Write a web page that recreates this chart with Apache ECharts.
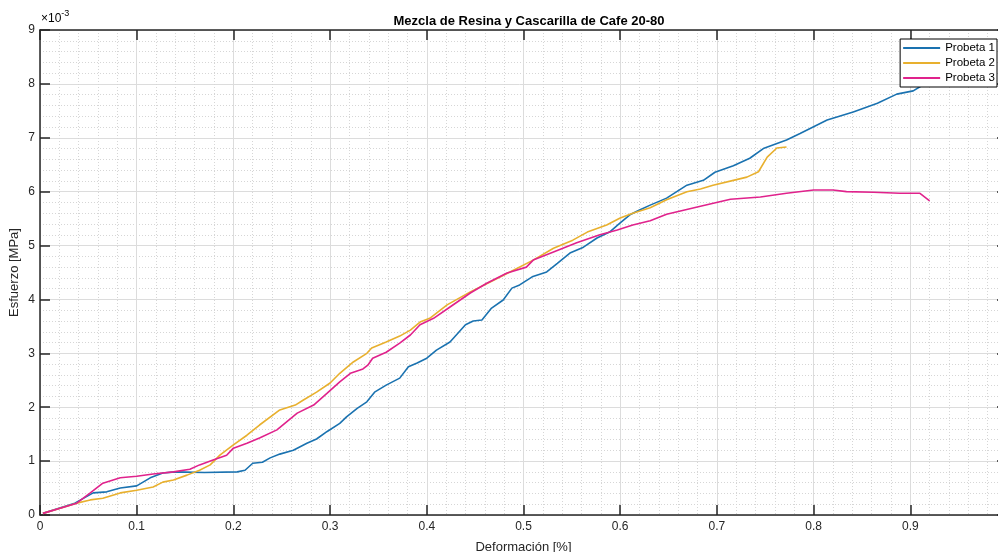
<!DOCTYPE html>
<html>
<head>
<meta charset="utf-8">
<script src="https://cdn.jsdelivr.net/npm/echarts@6/dist/echarts.min.js"></script>
<style>html,body{margin:0;padding:0;background:#fff}#c{width:998px;height:552px}</style>
</head>
<body>
<div id="c"></div>
<script>
// values in units of 1e-3 MPa (axis shows x10^-3)
const seriesNames = ['Probeta 1', 'Probeta 2', 'Probeta 3'];
const xTicks = [0, 0.1, 0.2, 0.3, 0.4, 0.5, 0.6, 0.7, 0.8, 0.9, 1];
const yTicks = [0, 1, 2, 3, 4, 5, 6, 7, 8, 9];

const p1x = [0.003, 0.036, 0.055, 0.069, 0.083, 0.1, 0.114, 0.127, 0.14, 0.17, 0.204, 0.212, 0.22, 0.23, 0.238, 0.248, 0.262, 0.276, 0.286, 0.297, 0.31, 0.317, 0.328, 0.338, 0.346, 0.358, 0.372, 0.381, 0.39, 0.4, 0.41, 0.424, 0.44, 0.448, 0.457, 0.467, 0.479, 0.488, 0.496, 0.509, 0.524, 0.535, 0.548, 0.562, 0.576, 0.589, 0.6, 0.61, 0.62, 0.631, 0.648, 0.669, 0.686, 0.698, 0.717, 0.734, 0.748, 0.772, 0.786, 0.814, 0.841, 0.866, 0.886, 0.903, 0.913];
const p1y = [0.03, 0.22, 0.41, 0.43, 0.5, 0.54, 0.69, 0.78, 0.8, 0.79, 0.8, 0.83, 0.96, 0.98, 1.06, 1.13, 1.2, 1.33, 1.41, 1.55, 1.7, 1.82, 1.98, 2.1, 2.28, 2.41, 2.54, 2.75, 2.82, 2.91, 3.06, 3.21, 3.53, 3.6, 3.62, 3.84, 3.99, 4.21, 4.27, 4.42, 4.51, 4.67, 4.86, 4.97, 5.14, 5.25, 5.42, 5.57, 5.66, 5.75, 5.88, 6.12, 6.21, 6.36, 6.48, 6.62, 6.8, 6.96, 7.08, 7.33, 7.48, 7.64, 7.81, 7.87, 7.98];

const p2x = [0.003, 0.038, 0.052, 0.065, 0.083, 0.1, 0.117, 0.127, 0.138, 0.152, 0.165, 0.176, 0.186, 0.2, 0.214, 0.227, 0.248, 0.264, 0.272, 0.286, 0.3, 0.31, 0.324, 0.338, 0.343, 0.358, 0.372, 0.383, 0.393, 0.403, 0.421, 0.445, 0.465, 0.486, 0.51, 0.531, 0.551, 0.566, 0.586, 0.6, 0.613, 0.631, 0.648, 0.669, 0.683, 0.696, 0.717, 0.731, 0.743, 0.752, 0.762, 0.772];
const p2y = [0.03, 0.22, 0.28, 0.31, 0.41, 0.46, 0.52, 0.61, 0.65, 0.74, 0.83, 0.93, 1.11, 1.3, 1.48, 1.67, 1.95, 2.04, 2.13, 2.28, 2.45, 2.63, 2.84, 3.0, 3.1, 3.21, 3.32, 3.43, 3.58, 3.65, 3.9, 4.14, 4.32, 4.51, 4.73, 4.95, 5.1, 5.25, 5.38, 5.51, 5.6, 5.7, 5.85, 6.0, 6.05, 6.12, 6.21, 6.27, 6.37, 6.64, 6.81, 6.83];

const p3x = [0.003, 0.038, 0.052, 0.065, 0.083, 0.1, 0.117, 0.138, 0.155, 0.165, 0.179, 0.193, 0.2, 0.214, 0.227, 0.245, 0.266, 0.283, 0.297, 0.31, 0.321, 0.334, 0.339, 0.344, 0.358, 0.372, 0.383, 0.393, 0.407, 0.424, 0.445, 0.462, 0.483, 0.503, 0.51, 0.531, 0.555, 0.579, 0.597, 0.613, 0.631, 0.648, 0.683, 0.714, 0.745, 0.772, 0.8, 0.82, 0.834, 0.862, 0.889, 0.91, 0.92];
const p3y = [0.03, 0.22, 0.41, 0.59, 0.69, 0.72, 0.76, 0.8, 0.85, 0.93, 1.02, 1.11, 1.24, 1.33, 1.43, 1.58, 1.89, 2.04, 2.26, 2.47, 2.63, 2.71, 2.78, 2.91, 3.02, 3.19, 3.34, 3.53, 3.65, 3.86, 4.12, 4.3, 4.49, 4.6, 4.73, 4.88, 5.05, 5.2, 5.29, 5.38, 5.46, 5.58, 5.73, 5.86, 5.9, 5.97, 6.03, 6.03, 6.0, 5.99, 5.97, 5.97, 5.83];

const colors = ['#1A72B0', '#E8B02E', '#E0228C'];
const zip = (xs, ys) => xs.map((x, i) => [x, ys[i]]);
const data = [zip(p1x, p1y), zip(p2x, p2y), zip(p3x, p3y)];

const FONT = '"Liberation Sans", Arial, sans-serif';
const axisCol = '#262626';

const chart = echarts.init(document.getElementById('c'), null, {renderer: 'canvas'});
const baseX = {
  type: 'value', min: xTicks[0], max: xTicks[xTicks.length - 1], interval: 0.1,
  axisLine: {show: true, onZero: false, lineStyle: {color: axisCol, width: 1.5}},
  axisTick: {show: true, inside: true, length: 10, lineStyle: {color: axisCol, width: 1.5}}
};
const baseY = {
  type: 'value', min: yTicks[0], max: yTicks[yTicks.length - 1], interval: 1,
  axisLine: {show: true, onZero: false, lineStyle: {color: axisCol, width: 1.5}},
  axisTick: {show: true, inside: true, length: 10, lineStyle: {color: axisCol, width: 1.5}}
};
chart.setOption({
  animation: false,
  backgroundColor: '#fff',
  textStyle: {fontFamily: FONT},
  title: {
    text: 'Mezcla de Resina y Cascarilla de Cafe 20-80',
    left: 524, top: 10, textAlign: 'center',
    textStyle: {fontFamily: FONT, fontSize: 13, fontWeight: 'bold', color: '#000'}
  },
  graphic: [{
    type: 'text', left: 41, top: 9,
    style: {
      text: '{a|×10}{b|-3}',
      rich: {
        a: {fontFamily: FONT, fontSize: 12, color: axisCol, verticalAlign: 'bottom', lineHeight: 16},
        b: {fontFamily: FONT, fontSize: 9, color: axisCol, verticalAlign: 'top', lineHeight: 10, padding: [0, 0, 6, 0]}
      }
    }
  }],
  legend: {
    data: seriesNames,
    orient: 'vertical', right: 1, top: 39,
    icon: 'rect', itemWidth: 37, itemHeight: 2, itemGap: 3,
    padding: [3, 2, 3, 3],
    backgroundColor: '#fff', borderColor: '#000', borderWidth: 1,
    textStyle: {fontFamily: FONT, fontSize: 11.5, color: '#000', lineHeight: 12}
  },
  grid: {left: 40, top: 30, width: 967, height: 485, containLabel: false, outerBoundsMode: 'none'},
  xAxis: [
    Object.assign({}, baseX, {
      position: 'bottom',
      name: 'Deformación [%]', nameLocation: 'middle', nameGap: 26,
      nameTextStyle: {fontFamily: FONT, fontSize: 13, color: axisCol},
      axisLabel: {show: true, margin: 6, fontFamily: FONT, fontSize: 12, color: axisCol,
        formatter: v => (v >= 0.999 ? '' : String(Math.round(v * 10) / 10)), showMaxLabel: false},
      splitLine: {show: true, lineStyle: {color: '#dcdcdc', width: 1}},
      minorTick: {show: false, splitNumber: 5},
      minorSplitLine: {show: true, lineStyle: {color: '#d6d6d6', width: 1, type: [1, 2]}}
    }),
    Object.assign({}, baseX, {
      position: 'top', axisLabel: {show: false}, splitLine: {show: false}
    })
  ],
  yAxis: [
    Object.assign({}, baseY, {
      position: 'left',
      name: 'Esfuerzo [MPa]', nameLocation: 'middle', nameGap: 19, nameMoveOverlap: false,
      nameTextStyle: {fontFamily: FONT, fontSize: 13, color: axisCol},
      axisLabel: {show: true, margin: 5, fontFamily: FONT, fontSize: 12, color: axisCol},
      splitLine: {show: true, lineStyle: {color: '#dcdcdc', width: 1}},
      minorTick: {show: false, splitNumber: 5},
      minorSplitLine: {show: true, lineStyle: {color: '#d6d6d6', width: 1, type: [1, 2]}}
    }),
    Object.assign({}, baseY, {
      position: 'right', axisLabel: {show: false}, splitLine: {show: false}
    })
  ],
  series: seriesNames.map((n, i) => ({
    name: n, type: 'line', data: data[i], showSymbol: false, symbol: 'none',
    xAxisIndex: 0, yAxisIndex: 0,
    lineStyle: {color: colors[i], width: 1.6}, itemStyle: {color: colors[i]},
    z: 3
  }))
});
</script>
</body>
</html>
